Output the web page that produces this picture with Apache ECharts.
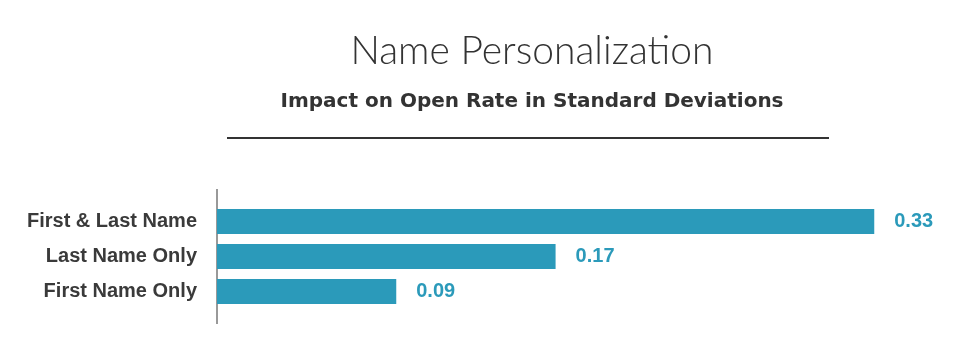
<!DOCTYPE html>
<html>
<head>
<meta charset="utf-8">
<script src="https://cdn.jsdelivr.net/npm/echarts@6/dist/echarts.min.js"></script>
<style>
    html, body { margin: 0; padding: 0; background: #fff; }
    #chart { width: 972px; height: 342px; }
</style>
</head>
<body>
<div id="chart"></div>
<script>
// 数据
var categories = ['First Name Only', 'Last Name Only', 'First & Last Name'];
var values = [0.09, 0.17, 0.33];

var barColor = '#2b9aba';
var myChart = echarts.init(document.getElementById('chart'));

myChart.setOption({
    animation: false,
    title: [
        {
            text: 'Name Personalization',
            left: 527,
            top: 27,
            textAlign: 'center',
            textStyle: { fontFamily: 'Lato', fontWeight: 300, fontSize: 39, color: '#333' }
        },
        {
            text: 'Impact on Open Rate in Standard Deviations',
            left: 527,
            top: 87,
            textAlign: 'center',
            textStyle: { fontFamily: 'DejaVu Sans', fontWeight: 'bold', fontSize: 20, color: '#333' }
        }
    ],
    graphic: [
        // 标题下的横线
        { type: 'line', shape: { x1: 227, y1: 138, x2: 829, y2: 138 }, style: { stroke: '#333', lineWidth: 2 } },
        // 纵轴线
        { type: 'line', shape: { x1: 217, y1: 189, x2: 217, y2: 324 }, style: { stroke: '#999', lineWidth: 2 } }
    ],
    grid: { left: 217, right: 38, top: 204, bottom: 33, containLabel: false },
    xAxis: {
        type: 'value',
        min: 0,
        max: 0.36,
        show: false
    },
    yAxis: {
        type: 'category',
        data: categories,
        axisLine: { show: false },
        axisTick: { show: false },
        axisLabel: {
            margin: 20,
            fontFamily: 'Liberation Sans',
            fontWeight: 'bold',
            fontSize: 20,
            color: '#3a3a3a'
        }
    },
    series: [
        {
            type: 'bar',
            data: values,
            barWidth: 25,
            itemStyle: { color: barColor },
            label: {
                show: true,
                position: 'right',
                distance: 20,
                formatter: function (p) { return p.value.toFixed(2); },
                fontFamily: 'Liberation Sans',
                fontWeight: 'bold',
                fontSize: 20,
                color: barColor
            }
        }
    ]
});
</script>
</body>
</html>
